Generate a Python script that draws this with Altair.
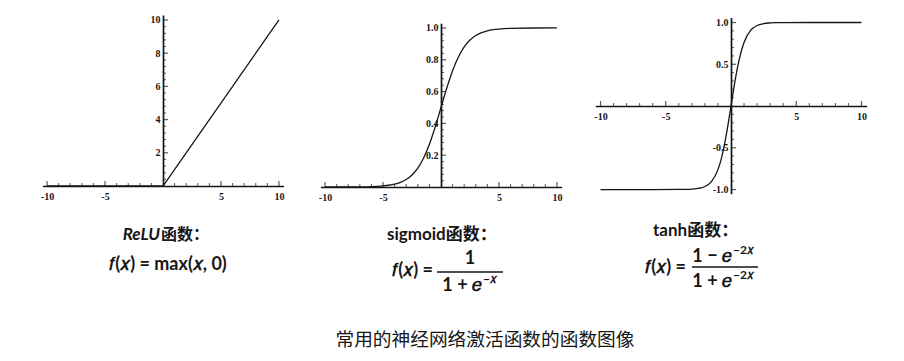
import altair as alt
import pandas as pd

# ---------------- data ----------------
relu_x = [-10, 0, 10]
relu_y = [0, 0, 10]

sig_x = [-10, -8, -6, -5, -4.5, -4, -3.5, -3, -2.5, -2, -1.5, -1, -0.5, 0,
         0.5, 1, 1.5, 2, 2.5, 3, 3.5, 4, 4.5, 5, 6, 8, 10]
sig_y = [0.0000, 0.0003, 0.0025, 0.0067, 0.0110, 0.0180, 0.0293, 0.0474, 0.0759,
         0.1192, 0.1824, 0.2689, 0.3775, 0.5000, 0.6225, 0.7311, 0.8176, 0.8808,
         0.9241, 0.9526, 0.9707, 0.9820, 0.9890, 0.9933, 0.9975, 0.9997, 1.0000]

tanh_x = [-10, -8, -6, -4, -3.5, -3, -2.5, -2, -1.5, -1, -0.75, -0.5, -0.25, 0,
          0.25, 0.5, 0.75, 1, 1.5, 2, 2.5, 3, 3.5, 4, 6, 8, 10]
tanh_y = [-1.0, -1.0, -1.0, -0.9993, -0.9982, -0.9951, -0.9866, -0.9640, -0.9051,
          -0.7616, -0.6351, -0.4621, -0.2449, 0.0, 0.2449, 0.4621, 0.6351, 0.7616,
          0.9051, 0.9640, 0.9866, 0.9951, 0.9982, 0.9993, 1.0, 1.0, 1.0]

x_major = [-10, -5, 5, 10]
x_minor = [-9, -8, -7, -6, -4, -3, -2, -1, 1, 2, 3, 4, 6, 7, 8, 9]
relu_y_major = [2, 4, 6, 8, 10]
sig_y_major = [0.2, 0.4, 0.6, 0.8, 1.0]
tanh_y_major = [-1.0, -0.5, 0.5, 1.0]

relu_caption = ["ReLU", "函数："]
sig_caption = "sigmoid函数："
tanh_caption = "tanh函数："
F = "\U0001D453(\U0001D465) ="
relu_formula = F + " max(\U0001D465, 0)"
sig_num = "1"
sig_den = "1 + \U0001D452"
sig_sup = "\u2212\U0001D465"
tanh_num = "1 \u2212 \U0001D452"
tanh_den = "1 + \U0001D452"
tanh_sup = "\u22122\U0001D465"
main_title = "常用的神经网络激活函数的函数图像"

# ---------------- styles ----------------
W, H = 904, 361
INK = "#161616"
TICK_FONT = "Liberation Serif"
CAP_FONT = "Lato, 'Noto Sans CJK SC'"
MATH_FONT = "Lato, 'DejaVu Sans', 'Noto Sans CJK SC'"


def minor_steps(lo, hi, step, majors):
    out = []
    v = lo
    while v <= hi + 1e-9:
        r = round(v, 4)
        if abs(r) > 1e-9 and all(abs(r - m) > 1e-9 for m in majors):
            out.append(r)
        v += step
    return out


def panel(xs, ys, xdom, xrng, ydom, yrng, y_major, y_minor, yfmt, x0_px, y0_px,
          interp="monotone"):
    df = pd.DataFrame({"x": xs, "y": ys})
    xscale = alt.Scale(domain=xdom, range=xrng, nice=False, zero=False)
    yscale = alt.Scale(domain=ydom, range=yrng, nice=False, zero=False)
    common = dict(
        grid=False, title=None, ticks=False, tickSize=0,
        labelFont=TICK_FONT, labelFontWeight="bold", labelFontSize=10,
        labelColor=INK, domainColor=INK, domainWidth=1.7, labelOverlap=False,
        labelExpr="replace(datum.label, '\u2212', '-')",
    )
    xaxis = alt.Axis(orient="bottom", offset=y0_px - H, values=x_major,
                     format="d", labelPadding=5, **common)
    yaxis = alt.Axis(orient="left", offset=-x0_px, values=y_major,
                     format=yfmt, labelPadding=3, **common)
    line = alt.Chart(df).mark_line(color=INK, strokeWidth=1.3,
                                   interpolate=interp).encode(
        x=alt.X("x:Q", scale=xscale, axis=xaxis),
        y=alt.Y("y:Q", scale=yscale, axis=yaxis),
    )
    xt_minor = alt.Chart(pd.DataFrame({"x": x_minor, "y": [0] * len(x_minor)})).mark_tick(
        orient="vertical", size=3, thickness=1, yOffset=-1.5, color=INK
    ).encode(x="x:Q", y="y:Q")
    xt_major = alt.Chart(pd.DataFrame({"x": x_major, "y": [0] * len(x_major)})).mark_tick(
        orient="vertical", size=5, thickness=1.2, yOffset=-2.5, color=INK
    ).encode(x="x:Q", y="y:Q")
    yt_minor = alt.Chart(pd.DataFrame({"y": y_minor, "x": [0] * len(y_minor)})).mark_tick(
        orient="horizontal", size=3, thickness=1, xOffset=1.5, color=INK
    ).encode(x="x:Q", y="y:Q")
    yt_major = alt.Chart(pd.DataFrame({"y": y_major, "x": [0] * len(y_major)})).mark_tick(
        orient="horizontal", size=5, thickness=1.2, xOffset=2.5, color=INK
    ).encode(x="x:Q", y="y:Q")
    return alt.layer(line, xt_minor, xt_major, yt_minor, yt_major)


relu = panel(relu_x, relu_y, [-10.4, 10.4], [42.4, 283.6], [0, 10.3], [186, 15],
             relu_y_major, minor_steps(0.4, 10, 0.4, relu_y_major), "d", 163, 186,
             interp="linear")
sig = panel(sig_x, sig_y, [-10.4, 10.4], [320.4, 561.6], [0, 1.03], [187, 23.2],
            sig_y_major, minor_steps(0.04, 1.0, 0.04, sig_y_major), ".1f", 441, 187)
tanh = panel(tanh_x, tanh_y, [-10.4, 10.4], [595.3, 866.7], [-1.05, 1.06], [193.7, 17.5],
             tanh_y_major, minor_steps(-1.0, 1.0, 0.1, tanh_y_major), ".1f", 731, 106)


def txt(text, x, y, size=16, font=CAP_FONT, align="center", weight="bold",
        style="normal"):
    return alt.Chart(pd.DataFrame({"t": [text]})).mark_text(
        font=font, fontSize=size, align=align, baseline="middle",
        fontWeight=weight, fontStyle=style, color=INK
    ).encode(text="t:N", x=alt.value(x), y=alt.value(y))


def hline(x1, x2, y):
    return alt.Chart(pd.DataFrame({"a": [0]})).mark_rule(
        color=INK, strokeWidth=1.4
    ).encode(x=alt.value(x1), x2=alt.value(x2), y=alt.value(y))


annotations = [
    txt(relu_caption[0], 160, 235, size=17, align="right", style="italic"),
    txt(relu_caption[1], 161, 235, size=16, align="left"),
    txt(relu_formula, 168, 265, size=18, font=MATH_FONT),
    txt(sig_caption, 387, 235, size=17, align="left"),
    txt(F, 433, 271, size=18, font=MATH_FONT, align="right"),
    txt(sig_num, 470, 259, size=18, font=MATH_FONT),
    hline(437, 503, 272),
    txt(sig_den, 482, 286, size=18, font=MATH_FONT, align="right"),
    txt(sig_sup, 483, 279, size=12, font=MATH_FONT, align="left"),
    txt(tanh_caption, 653, 231, size=17, align="left"),
    txt(F, 686, 268, size=18, font=MATH_FONT, align="right"),
    txt(tanh_num, 732, 257, size=18, font=MATH_FONT, align="right"),
    txt(tanh_sup, 733, 250, size=12, font=MATH_FONT, align="left"),
    hline(692, 758, 267),
    txt(tanh_den, 732, 282, size=18, font=MATH_FONT, align="right"),
    txt(tanh_sup, 733, 275, size=12, font=MATH_FONT, align="left"),
    txt(main_title, 485, 340, size=18.7, font="'Noto Sans CJK SC'", weight="normal"),
]

chart = alt.layer(relu, sig, tanh, *annotations).resolve_scale(
    x="independent", y="independent"
).resolve_axis(
    x="independent", y="independent"
).properties(
    width=W, height=H, padding=0,
    autosize=alt.AutoSizeParams(type="none"),
    background="white",
).configure_view(stroke=None)

chart.save("out.html", embed_options={"renderer": "svg", "actions": False})
